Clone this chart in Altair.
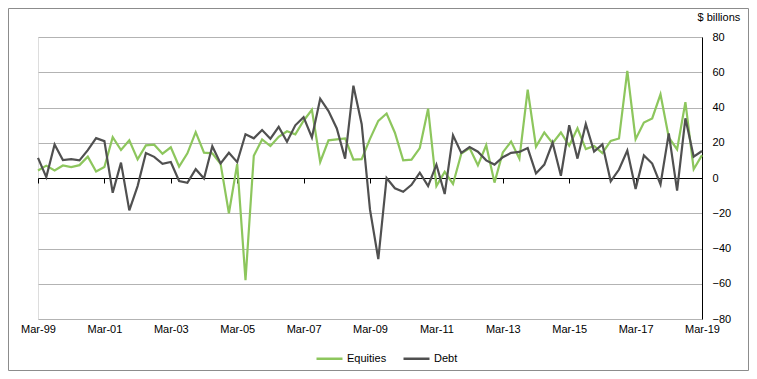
import altair as alt
import pandas as pd

months = ["Mar", "Jun", "Sep", "Dec"]
quarters = []
for yr in range(1999, 2020):
    for m in months:
        quarters.append(f"{m}-{str(yr)[2:]}")
quarters = quarters[:81]  # Mar-99 .. Mar-19

tick_labels = [f"Mar-{str(y)[2:]}" for y in range(1999, 2020, 2)]

equities = [4.3, 7, 4.3, 7.1, 6.2, 7.3, 12.1, 3.7, 6.2, 23.2,
            15.9, 21.4, 10.6, 18.5, 18.9, 13.8, 17.4, 6.5, 14, 26,
            14.4, 14, 8, -20, 8, -58, 12.6, 21.9, 18.1, 23.4,
            26.5, 24.8, 32.5, 38.7, 9.1, 21.4, 21.9, 22.5, 10.5, 10.7,
            22.2, 32.4, 36.6, 25.7, 10, 10.4, 17, 39.3, -4.6, 3.5,
            -3.4, 13.8, 17, 7.2, 18.6, -2.6, 14.5, 20.7, 11, 50.1,
            17.8, 25.8, 19.8, 25.8, 18.3, 28.2, 16.4, 18.2, 14.1, 21,
            22.4, 60.8, 22, 31.5, 33.8, 47.5, 23, 16.2, 43, 5, 13]

debt = [11.4, 0.5, 19, 10.2, 10.7, 10, 15.8, 22.6, 20.9, -8.4,
        8.7, -18.4, -4.6, 14.2, 12, 8, 9.1, -1.7, -2.7, 5,
        -0.3, 18, 8.3, 14.3, 9, 24.8, 22.5, 27.2, 22.3, 29,
        20.6, 29.9, 34.5, 23, 45, 38, 28.1, 11, 52.4, 30.5,
        -18, -46, 0, -5.8, -7.8, -3.9, 3, -4.6, 7.6, -9.1,
        24.2, 14.2, 17.5, 14.9, 10, 7.6, 11.8, 14.3, 14.8, 17,
        2.6, 7.6, 20, 1.3, 29.9, 11, 30.6, 15, 19.1, -1.9,
        4.8, 15.6, -6.3, 12.8, 8.2, -3.6, 25.3, -7.2, 33.9, 12.1, 15.3]

series_names = ["Equities", "Debt"]
series_colors = ["#8DC65D", "#505050"]

rows = []
for q, e, d in zip(quarters, equities, debt):
    rows.append({"q": q, "series": "Equities", "value": e})
    rows.append({"q": q, "series": "Debt", "value": d})
df = pd.DataFrame(rows)

W, H = 664, 282
FONT = "Liberation Sans"

lines = alt.Chart(df).mark_line(strokeWidth=2.2).encode(
    x=alt.X("q:O", sort=quarters,
            scale=alt.Scale(type="point", padding=0),
            axis=alt.Axis(values=tick_labels, title=None, labelAngle=0,
                          offset=-141, domainColor="#000000", domainWidth=1.2,
                          tickColor="#000000", tickSize=5, labelPadding=140,
                          labelFontSize=11, labelColor="#000000", grid=False)),
    y=alt.Y("value:Q", scale=alt.Scale(domain=[-80, 80], nice=False),
            axis=alt.Axis(orient="right", values=list(range(-80, 81, 20)),
                          title="$ billions", titleAngle=0, titleAlign="left",
                          titleBaseline="alphabetic", titleX=-5, titleY=-17,
                          titleFontSize=11, titleFontWeight="normal", titleColor="#000000",
                          domainColor="#000000", ticks=False, labelPadding=10,
                          labelFontSize=11, labelColor="#000000",
                          grid=True, gridColor="#b3b3b3", gridWidth=1)),
    color=alt.Color("series:N",
                    scale=alt.Scale(domain=series_names, range=series_colors),
                    sort=series_names,
                    legend=alt.Legend(title=None, orient="none", direction="horizontal",
                                      legendX=277, legendY=307, symbolType="stroke",
                                      symbolSize=676, symbolStrokeWidth=2.5,
                                      labelFontSize=11, labelColor="#000000",
                                      labelOffset=3, columnPadding=11, padding=0)),
    detail="series:N",
)

border = alt.Chart(alt.Data(values=[{}])).mark_rect(
    fill=None, stroke="#8c8c8c", strokeWidth=1
).encode(
    x=alt.value(-29.5), x2=alt.value(W + 46.5),
    y=alt.value(-28.5), y2=alt.value(H + 51.5),
)

chart = alt.layer(lines, border).properties(
    width=W, height=H,
    autosize=alt.AutoSizeParams(type="none"),
    padding={"left": 30, "right": 47, "top": 29, "bottom": 52},
).configure_view(stroke=None).configure(font=FONT)

chart.save("out.html", embed_options={"renderer": "svg", "actions": False})
